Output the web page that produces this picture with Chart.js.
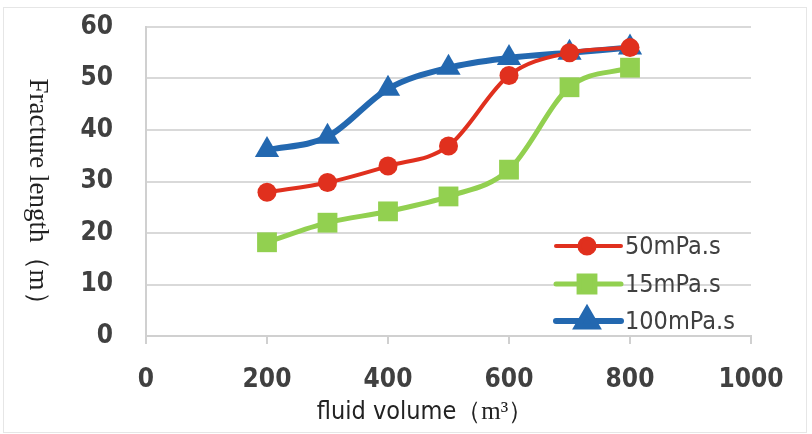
<!DOCTYPE html>
<html>
<head>
<meta charset="utf-8">
<script src="https://cdn.jsdelivr.net/npm/chart.js@4.4.1/dist/chart.umd.min.js"></script>
<style>
  html, body { margin: 0; padding: 0; background: #fff; }
  #wrap { position: relative; width: 812px; height: 434px; }
  #frame { position: absolute; left: 3px; top: 7px; width: 802px; height: 424px; border: 1px solid #e6e6e6; pointer-events: none; }
</style>
</head>
<body>
<div id="wrap">
  <canvas id="chart" width="812" height="434"></canvas>
  <div id="frame"></div>
</div>
<script>
// fluid volume (m3)
var volumes = [200, 300, 400, 500, 600, 700, 800];
// fracture length (m) per viscosity
var len50 = [27.9, 29.8, 33.0, 36.9, 50.6, 55.0, 56.0];
var len15 = [18.2, 22.0, 24.2, 27.1, 32.3, 48.3, 52.1];
var len100 = [36.1, 38.7, 48.0, 52.1, 54.0, 55.0, 56.0];
var seriesNames = ['50mPa.s', '15mPa.s', '100mPa.s'];
var xTicks = [0, 200, 400, 600, 800, 1000];
var yTicks = [0, 10, 20, 30, 40, 50, 60];

function pts(vals) {
  return vals.map(function (v, i) { return { x: volumes[i], y: v }; });
}

var condensed = '"DejaVu Sans Condensed", "Liberation Sans", sans-serif';
var tickFont = { family: condensed, size: 26, weight: 'bold' };

// legend drawn inside the plot, line sample with marker
var insideLegend = {
  id: 'insideLegend',
  afterDatasetsDraw: function (chart) {
    var ctx = chart.ctx;
    var rows = [246, 284, 321];
    chart.data.datasets.forEach(function (ds, i) {
      var y = rows[i];
      ctx.save();
      ctx.strokeStyle = ds.borderColor;
      ctx.lineWidth = ds.borderWidth;
      ctx.lineCap = 'round';
      ctx.beginPath();
      ctx.moveTo(556, y);
      ctx.lineTo(621, y);
      ctx.stroke();
      ctx.fillStyle = ds.backgroundColor;
      ctx.strokeStyle = ds.backgroundColor;
      Chart.helpers.drawPoint(ctx, { pointStyle: ds.pointStyle, radius: ds.pointRadius * 0.8, borderWidth: 1 }, 587, y);
      ctx.fillStyle = '#404040';
      ctx.font = '25px ' + condensed;
      ctx.textBaseline = 'middle';
      ctx.fillText(ds.label, 625, y + 1);
      ctx.restore();
    });
  }
};

// axis titles: y title reads top to bottom
var axisTitles = {
  id: 'axisTitles',
  afterDraw: function (chart) {
    var ctx = chart.ctx;
    ctx.save();
    ctx.translate(37, 198);
    ctx.rotate(Math.PI / 2);
    ctx.fillStyle = '#222';
    ctx.font = '27px "Liberation Serif", serif';
    ctx.textAlign = 'center';
    ctx.textBaseline = 'middle';
    ctx.fillText('Fracture length（m）', 0, 0);
    ctx.restore();

    ctx.save();
    ctx.fillStyle = '#222';
    ctx.textBaseline = 'middle';
    var a = 'fluid volume';
    ctx.font = '25px ' + condensed;
    var wa = ctx.measureText(a).width;
    ctx.font = '25px "Liberation Serif", serif';
    var b = '（m³）';
    var wb = ctx.measureText(b).width;
    var x0 = 425 - (wa + wb) / 2;
    ctx.font = '25px ' + condensed;
    ctx.fillText(a, x0, 412);
    ctx.font = '25px "Liberation Serif", serif';
    ctx.fillText(b, x0 + wa, 412);
    ctx.restore();
  }
};

new Chart(document.getElementById('chart'), {
  type: 'line',
  data: {
    datasets: [
      { label: seriesNames[0], data: pts(len50), borderColor: '#e0301e', backgroundColor: '#e0301e',
        borderWidth: 4, pointStyle: 'circle', pointRadius: 9.5, pointBorderWidth: 0 },
      { label: seriesNames[1], data: pts(len15), borderColor: '#92d050', backgroundColor: '#92d050',
        borderWidth: 5, pointStyle: 'rect', pointRadius: 14, pointBorderWidth: 0 },
      { label: seriesNames[2], data: pts(len100), borderColor: '#2368b0', backgroundColor: '#2368b0',
        borderWidth: 6, pointStyle: 'triangle', pointRadius: 14, pointBorderWidth: 0 }
    ]
  },
  options: {
    responsive: false,
    animation: false,
    layout: { padding: { top: 27, right: 61, bottom: 0, left: 0 } },
    elements: { line: { cubicInterpolationMode: 'monotone', fill: false } },
    plugins: { legend: { display: false }, tooltip: { enabled: false } },
    scales: {
      x: {
        type: 'linear', min: 0, max: 1000,
        afterBuildTicks: function (s) { s.ticks = xTicks.map(function (v) { return { value: v }; }); },
        afterFit: function (s) { s.height = 98; },
        grid: { drawOnChartArea: false, drawTicks: true, tickLength: 8, color: '#d0d0d0', lineWidth: 2 },
        border: { color: '#d0d0d0', width: 2 },
        ticks: { font: tickFont, color: '#404040', padding: 21, maxRotation: 0,
          callback: function (v) { return String(v); } }
      },
      y: {
        min: 0, max: 60,
        afterBuildTicks: function (s) { s.ticks = yTicks.map(function (v) { return { value: v }; }); },
        afterFit: function (s) { s.width = 146; },
        // invisible tick marks push the labels away from the axis
        grid: { drawTicks: true, tickLength: 33, tickColor: 'rgba(0,0,0,0)', color: '#d9d9d9', lineWidth: 2 },
        border: { color: '#d0d0d0', width: 2 },
        ticks: { font: tickFont, color: '#404040', padding: 0, callback: function (v) { return String(v); } }
      }
    }
  },
  plugins: [insideLegend, axisTitles]
});
</script>
</body>
</html>
